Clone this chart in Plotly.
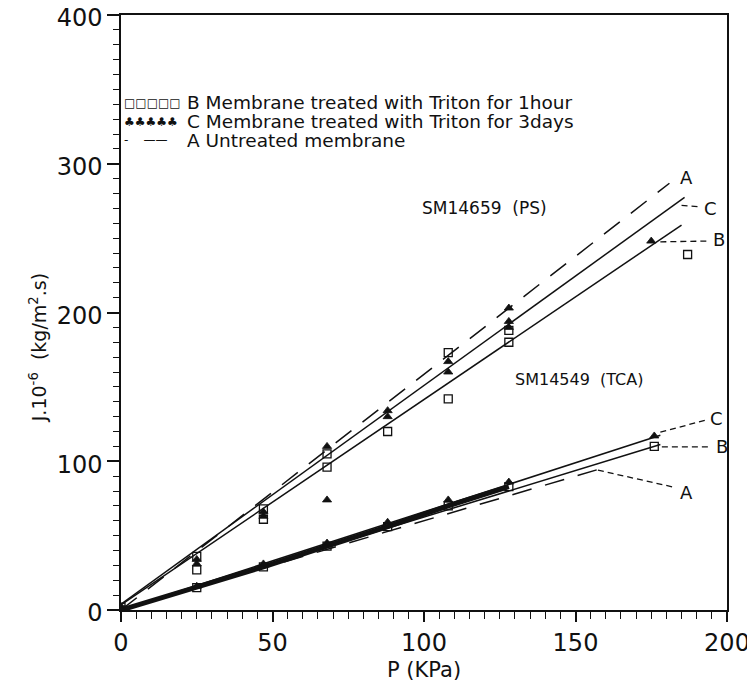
import plotly.graph_objects as go

# ---------------- data ----------------
# SM14659 (PS) membrane
ps_B_P = [0, 25, 25, 47, 47, 68, 68, 88, 108, 108, 128, 128, 187]
ps_B_J = [2, 27, 36, 61, 68, 96, 105, 120, 142, 173, 180, 188, 239]
ps_C_P = [0, 25, 25, 47, 47, 68, 68, 88, 88, 108, 108, 128, 128, 128, 175]
ps_C_J = [2, 31, 34, 63, 66, 74, 110, 130, 134, 160, 167, 190, 194, 203, 248]

# SM14549 (TCA) membrane
tca_B_P = [0, 25, 47, 68, 88, 108, 128, 176]
tca_B_J = [0, 15, 29, 43, 56, 70, 83, 110]
tca_C_P = [0, 25, 47, 68, 88, 108, 128, 176]
tca_C_J = [0, 16, 31, 45, 59, 74, 86, 117]

# fitted lines: (intercept, slope, P_end)
ps_fit_A = (0.0, 1.585, 181)
ps_fit_B = (3.5, 1.38, 185)
ps_fit_C = (4.0, 1.47, 186)
tca_fit_A = (0.0, 0.60, 157)
tca_fit_B = (0.0, 0.625, 178)
tca_fit_C = (0.0, 0.66, 178)

x_ticks = [0, 50, 100, 150, 200]
y_ticks = [0, 100, 200, 300, 400]

legend_rows = [
    ("\u25a1\u25a1\u25a1\u25a1\u25a1", "B Membrane treated with Triton for 1hour"),
    ("\u2663\u2663\u2663\u2663\u2663", "C Membrane treated with Triton for 3days"),
    ("-    \u2014\u2014", "A Untreated membrane"),
]

# curve labels: text, label position, leader start, leader end
curve_labels = [
    ("A", (186.5, 291), None, None),
    ("C", (194.5, 270), (185, 272), (191, 271)),
    ("B", (197.5, 249), (178, 247.5), (193.5, 248)),
    ("C", (196.5, 129), (178, 119.5), (192.7, 127.5)),
    ("B", (198.5, 109.6), (178.5, 109.6), (193.7, 109.6)),
    ("A", (186.5, 79.3), (157.4, 94), (182.2, 82.7)),
]

FONT = "DejaVu Sans"
INK = "#111111"
BODY = 8  # the page body margin of the browser

fig = go.Figure()


def fit_line(fit, dash):
    b, m, xe = fit
    xs = [0, xe]
    ys = [b + m * x for x in xs]
    fig.add_trace(go.Scatter(x=xs, y=ys, mode="lines",
                             line=dict(color=INK, width=1.5, dash=dash),
                             showlegend=False, hoverinfo="skip"))


for f in (ps_fit_B, ps_fit_C, tca_fit_B, tca_fit_C):
    fit_line(f, "solid")
for f in (ps_fit_A, tca_fit_A):
    fit_line(f, "20px,14px")

# thick band of lower group (overlapping markers and lines)
fig.add_trace(go.Scatter(x=tca_B_P[:-1], y=tca_B_J[:-1], mode="lines",
                         line=dict(color=INK, width=5), showlegend=False))

sq = dict(symbol="square-open", size=8, color=INK, line=dict(width=1.3, color=INK))
tr = dict(symbol="triangle-up", size=8, color=INK, line=dict(width=0.8, color=INK))
fig.add_trace(go.Scatter(x=ps_B_P, y=ps_B_J, mode="markers", marker=sq, showlegend=False))
fig.add_trace(go.Scatter(x=ps_C_P, y=ps_C_J, mode="markers", marker=tr, showlegend=False))
fig.add_trace(go.Scatter(x=tca_B_P, y=tca_B_J, mode="markers", marker=sq, showlegend=False))
fig.add_trace(go.Scatter(x=tca_C_P, y=tca_C_J, mode="markers", marker=tr, showlegend=False))

annotations = []
# legend (inside plot, top-left)
for i, (sym, txt) in enumerate(legend_rows):
    yv = 341 - i * 12.6
    annotations.append(dict(x=0.4, y=yv, xref="x", yref="y", text=sym, showarrow=False,
                            xanchor="left", yanchor="middle",
                            font=dict(family=FONT, size=12, color=INK)))
    annotations.append(dict(x=21.0, y=yv, xref="x", yref="y", text=txt, showarrow=False,
                            xanchor="left", yanchor="middle",
                            font=dict(family=FONT, size=18.5, color=INK)))

annotations.append(dict(x=120, y=270, xref="x", yref="y", text="SM14659  (PS)",
                        showarrow=False, font=dict(family=FONT, size=17, color=INK)))
annotations.append(dict(x=151, y=155, xref="x", yref="y", text="SM14549  (TCA)",
                        showarrow=False, font=dict(family=FONT, size=16, color=INK)))

shapes = []
for txt, pos, a, b in curve_labels:
    annotations.append(dict(x=pos[0], y=pos[1], xref="x", yref="y", text=txt,
                            showarrow=False, font=dict(family=FONT, size=18, color=INK)))
    if a is not None:
        shapes.append(dict(type="line", xref="x", yref="y", x0=a[0], y0=a[1], x1=b[0], y1=b[1],
                           line=dict(color=INK, width=1.3, dash="6px,4px")))

# axis titles
annotations.append(dict(x=-0.16, y=0.44, xref="paper", yref="paper",
                        text="J.10<sup>-6</sup>  (kg/m<sup>2</sup>.s)", textangle=-90,
                        showarrow=False, font=dict(family=FONT, size=19, color=INK)))
annotations.append(dict(x=0.5, y=-0.1, xref="paper", yref="paper", yanchor="middle",
                        text="P (KPa)", showarrow=False,
                        font=dict(family=FONT, size=21, color=INK)))

fig.update_layout(
    width=755 - BODY, height=682 - BODY,
    margin=dict(l=121 - BODY, r=28, t=15 - BODY, b=72, autoexpand=False),
    paper_bgcolor="white", plot_bgcolor="white",
    showlegend=False,
    annotations=annotations, shapes=shapes,
    font=dict(family=FONT, color=INK),
)
fig.update_xaxes(range=[0, 200], tickvals=x_ticks, ticks="outside", ticklen=10, tickwidth=1.5,
                 tickcolor=INK, showline=True, linecolor=INK, linewidth=1.5, mirror=True,
                 showgrid=False, zeroline=False, automargin=False, ticklabeloverflow="allow",
                 minor=dict(dtick=5, ticks="outside", ticklen=7, tickcolor=INK, tickwidth=1.2),
                 tickfont=dict(family=FONT, size=24, color=INK))
fig.update_yaxes(range=[0, 400], tickvals=y_ticks, ticks="outside", ticklen=12, tickwidth=1.5,
                 tickcolor=INK, showline=True, linecolor=INK, linewidth=1.5, mirror=True,
                 showgrid=False, zeroline=False, automargin=False, ticklabeloverflow="allow",
                 ticklabelshift=3,
                 minor=dict(dtick=10, ticks="outside", ticklen=6, tickcolor=INK, tickwidth=1.2),
                 tickfont=dict(family=FONT, size=24, color=INK))

fig.write_html("out.html")
